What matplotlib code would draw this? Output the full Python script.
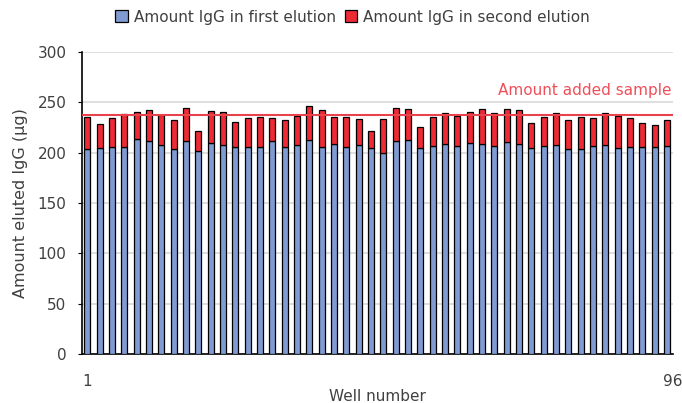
import numpy as np
import matplotlib.pyplot as plt

plt.rcParams['font.family'] = ['DejaVu Sans']

# values (µg per well)
first_elution = [204, 205, 206, 206, 214, 212, 208, 204, 212, 202, 210, 208,
                 206, 206, 206, 212, 206, 208, 213, 206, 209, 206, 208, 205,
                 200, 212, 213, 205, 207, 209, 207, 210, 209, 207, 211, 209,
                 205, 207, 208, 204, 204, 207, 208, 205, 206, 206, 206, 207]
second_elution = [31, 24, 28, 32, 26, 30, 29, 28, 32, 20, 31, 32,
                  25, 28, 29, 22, 26, 28, 33, 36, 26, 29, 25, 17,
                  33, 32, 30, 21, 28, 30, 29, 30, 34, 32, 32, 33,
                  25, 28, 31, 28, 31, 27, 31, 31, 28, 24, 22, 25]
added_sample = 237
tick_labels = ['1', '96']

wells = np.arange(1, len(first_elution) + 1)

fig = plt.figure(figsize=(6.82, 4.03), dpi=100)
ax = fig.add_axes([0.12, 0.121, 0.867, 0.750])

ax.bar(wells, first_elution, width=0.48, color='#7f9bd1', edgecolor='black',
       linewidth=0.9, label='Amount IgG in first elution', zorder=3)
ax.bar(wells, second_elution, width=0.48, bottom=first_elution, color='#ee2a35',
       edgecolor='black', linewidth=0.9, label='Amount IgG in second elution', zorder=3)

ax.axhline(added_sample, color='#e8434c', linewidth=1.5, zorder=4)
ax.text(0.998, added_sample + 25, 'Amount added sample', color='#f04f5a', fontsize=11,
        ha='right', va='center', transform=ax.get_yaxis_transform())

ax.set_xlim(0.55, 48.5)
ax.set_ylim(0, 300)
ax.set_yticks(range(0, 301, 50))
ax.set_xticks([1, 48.45])
ax.set_xticklabels(tick_labels)
ax.tick_params(axis='x', length=0, pad=14, labelsize=11, labelcolor='#404040')
ax.tick_params(axis='y', length=3, direction='out', pad=8, labelsize=11, labelcolor='#404040')
ax.yaxis.grid(True, color='#d9d9d9', linewidth=1.2, zorder=0)
ax.set_axisbelow(True)
for s in ['top', 'right']:
    ax.spines[s].set_visible(False)
ax.spines['left'].set_linewidth(1.2)
ax.spines['bottom'].set_linewidth(1.2)

ax.set_xlabel('Well number', fontsize=11, color='#404040', labelpad=0)
ax.set_ylabel('Amount eluted IgG (µg)', fontsize=11.5, color='#404040', labelpad=7)

ax.legend(loc='lower center', bbox_to_anchor=(0.458, 1.045), ncol=2, frameon=False,
          fontsize=11, handlelength=0.8, handleheight=0.8, handletextpad=0.4,
          columnspacing=0.6, labelcolor='#404040')

plt.savefig('out.png')
